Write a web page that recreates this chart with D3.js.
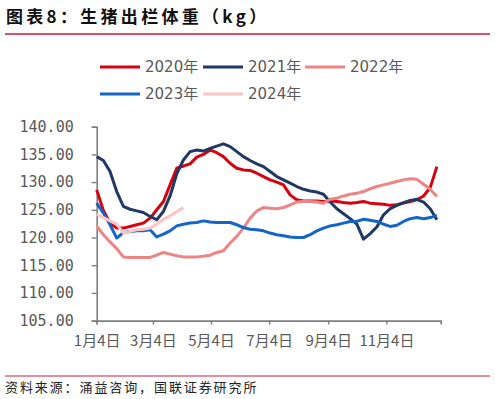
<!doctype html>
<html>
<head>
<meta charset="utf-8">
<script src="https://d3js.org/d3.v7.min.js"></script>
<style>
    body { margin: 0; background: #fff; }
    svg { display: block; }
</style>
</head>
<body>
<svg id="chart"></svg>

<script>

    // weekly observations, first week starts 1月4日
    var weekStart = new Date(2021, 0, 4);

    var years = ["2020年", "2021年", "2022年", "2023年", "2024年"];
    var colors = ["#d7000f", "#1f3864", "#ee8585", "#1565c8", "#ffc4c4"];

    var v2020 = [128.6, 124.9, 122.6, 121.7, 121.7, 122.0, 122.3, 122.6, 123.5, 125.0,
                 126.5, 129.5, 132.5, 132.9, 133.3, 134.5, 135.0, 135.8, 135.3, 134.6,
                 133.4, 132.5, 132.2, 132.1, 131.6, 131.0, 130.4, 130.0, 129.5, 127.7,
                 126.8, 126.6, 126.6, 126.6, 126.5, 126.6, 126.5, 126.3, 126.2, 126.3,
                 126.5, 126.2, 126.1, 126.0, 125.8, 125.9, 126.2, 126.5, 126.8, 127.5,
                 129.0, 132.8];
    var v2021 = [134.6, 133.9, 131.9, 128.3, 125.6, 125.1, 124.8, 124.5, 123.8, 123.2,
                 124.7, 127.5, 131.5, 134.0, 135.5, 135.8, 135.6, 136.1, 136.5, 136.9,
                 136.4, 135.5, 134.6, 133.9, 133.3, 132.8, 131.9, 131.0, 130.4, 129.8,
                 129.2, 128.7, 128.4, 128.2, 127.8, 126.4, 125.2, 124.3, 123.4, 122.4,
                 119.7, 120.7, 121.9, 124.1, 125.2, 125.8, 126.3, 126.7, 126.9, 126.4,
                 125.2, 123.2];
    var v2022 = [122.1, 120.5, 119.2, 118.0, 116.5, 116.4, 116.4, 116.4, 116.4, 116.8,
                 117.3, 117.0, 116.7, 116.5, 116.5, 116.5, 116.6, 116.8, 117.3, 117.6,
                 119.0, 120.2, 121.7, 123.5, 124.8, 125.4, 125.3, 125.2, 125.4, 125.9,
                 126.4, 126.5, 126.5, 126.4, 126.2, 126.9, 127.1, 127.5, 127.8, 128.0,
                 128.3, 128.8, 129.2, 129.5, 129.8, 130.1, 130.4, 130.6, 130.5, 129.6,
                 128.7, 127.4];
    var v2023 = [126.2, 124.4, 122.3, 119.9, 120.9, 121.1, 121.2, 121.2, 121.4, 120.1,
                 120.6, 121.2, 122.1, 122.4, 122.6, 122.7, 123.0, 122.8, 122.7, 122.7,
                 122.7, 122.3, 121.8, 121.5, 121.4, 121.2, 120.8, 120.5, 120.3, 120.1,
                 120.0, 120.0, 120.5, 121.2, 121.7, 122.1, 122.3, 122.6, 122.9, 122.9,
                 123.3, 123.1, 122.9, 122.4, 122.0, 122.2, 122.9, 123.4, 123.6, 123.4,
                 123.6, 124.0];
    var v2024 = [124.2, 123.6, 123.0, 122.4, 120.8, 121.1, 121.4, 121.5, 121.7, 122.4,
                 123.3, 123.9, 124.7, 125.4];

    var yTicks = [105, 110, 115, 120, 125, 130, 135, 140];
    var xTickMonths = [0, 2, 4, 6, 8, 10];

    var seriesValues = [v2020, v2021, v2022, v2023, v2024];

    var W = 495, H = 399;
    var svg = d3.select("#chart").attr("width", W).attr("height", H);

    svg.append("rect").attr("width", W).attr("height", H).attr("fill", "#fff");

    // title + rules
    svg.append("text")
        .attr("x", 6).attr("y", 23)
        .attr("font-family", "'Noto Sans CJK SC', sans-serif")
        .attr("font-weight", "bold")
        .attr("font-size", 17)
        .attr("letter-spacing", 3.3)
        .attr("fill", "#111")
        .text("图表8：生猪出栏体重（kg）");

    svg.append("line")
        .attr("x1", 5).attr("x2", 490).attr("y1", 34).attr("y2", 34)
        .attr("stroke", "#d6163c").attr("stroke-width", 1.3);

    svg.append("line")
        .attr("x1", 5).attr("x2", 490).attr("y1", 376).attr("y2", 376)
        .attr("stroke", "#dc6a7e").attr("stroke-width", 1.3);

    svg.append("text")
        .attr("x", 5).attr("y", 392)
        .attr("font-family", "'Noto Sans CJK SC', sans-serif")
        .attr("font-size", 13)
        .attr("letter-spacing", 1.9)
        .attr("fill", "#222")
        .text("资料来源：涌益咨询，国联证券研究所");

    // scales
    var x = d3.scaleTime()
        .domain([new Date(2021, 0, 4), new Date(2021, 11, 31)])
        .range([96.7, 440.7]);

    var y = d3.scaleLinear()
        .domain([105, 140])
        .range([320.6, 126.7]);

    var axisColor = "#7f7f7f";

    var yAxis = svg.append("g")
        .attr("transform", "translate(96.7,0)")
        .call(d3.axisLeft(y).tickValues(yTicks).tickSize(5).tickPadding(18)
            .tickFormat(d3.format(".2f")));

    yAxis.selectAll("text")
        .attr("font-family", "'DejaVu Sans Mono', monospace")
        .attr("font-size", 15)
        .attr("fill", "#595959");

    var xTickDates = xTickMonths.map(function (m) { return new Date(2021, m, 4); });

    var xAxis = svg.append("g")
        .attr("transform", "translate(0,320.6)")
        .call(d3.axisBottom(x).tickValues(xTickDates).tickSize(4).tickPadding(11)
            .tickFormat(d3.timeFormat("%-m月%-d日")));

    xAxis.selectAll("text")
        .attr("font-family", "'Noto Sans CJK SC', sans-serif")
        .attr("font-size", 15)
        .attr("fill", "#595959");

    [xAxis, yAxis].forEach(function (g) {
        g.select(".domain").attr("stroke", axisColor).attr("stroke-width", 1.6);
        g.selectAll(".tick line").attr("stroke", axisColor).attr("stroke-width", 1.4);
    });

    // lines
    var line = d3.line()
        .x(function (d, i) { return x(d3.timeDay.offset(weekStart, 7 * i)); })
        .y(function (d) { return y(d); });

    svg.append("g").selectAll("path")
        .data(seriesValues)
        .enter().append("path")
        .attr("d", line)
        .attr("fill", "none")
        .attr("stroke", function (d, i) { return colors[i]; })
        .attr("stroke-width", 3)
        .attr("stroke-linejoin", "round");

    // legend
    var legendPos = [[100, 67], [203, 67], [305, 67], [100, 94], [203, 94]];

    var legend = svg.append("g").selectAll("g")
        .data(years)
        .enter().append("g")
        .attr("transform", function (d, i) {
            return "translate(" + legendPos[i][0] + "," + legendPos[i][1] + ")";
        });

    legend.append("line")
        .attr("x1", 0).attr("x2", 40)
        .attr("stroke", function (d, i) { return colors[i]; })
        .attr("stroke-width", 3);

    legend.append("text")
        .attr("x", 45).attr("dy", "0.35em")
        .attr("font-family", "'DejaVu Sans', 'Noto Sans CJK SC', sans-serif")
        .attr("font-size", 15)
        .attr("fill", "#595959")
        .text(function (d) { return d; });

</script>
</body>
</html>
